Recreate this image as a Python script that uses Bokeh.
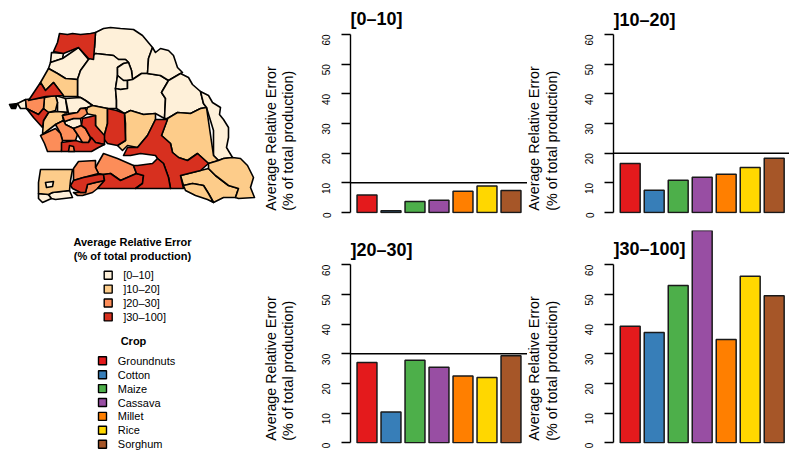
import math
from bokeh.core.properties import value
from bokeh.embed import file_html
from bokeh.layouts import column, row
from bokeh.models import FixedTicker, Range1d
from bokeh.plotting import figure
from bokeh.resources import INLINE

FONT = "Liberation Sans"
crops = ["Groundnuts", "Cotton", "Maize", "Cassava", "Millet", "Rice", "Sorghum"]
crop_colors = ["#E41A1C", "#377EB8", "#4DAF4A", "#984EA3", "#FF7F00", "#FFD700", "#A65628"]
class_labels = ["[0\u201310]", "]10\u201320]", "]20\u201330]", "]30\u2013100]"]
class_colors = ["#FEF0D9", "#FDCC8A", "#FC8D59", "#D7301F"]
class_limits = [10, 20, 30, None]
y_ticks = [0, 10, 20, 30, 40, 50, 60]
y_title_lines = ["Average Relative Error", "(% of total production)"]

err_0_10 = [5.9, 0.6, 3.7, 4.1, 7.2, 8.9, 7.4]
err_10_20 = [16.5, 7.5, 10.9, 11.9, 12.9, 15.2, 18.3]
err_20_30 = [27.1, 10.4, 27.8, 25.5, 22.5, 22.0, 29.3]
err_30_100 = [39.3, 37.2, 53.0, 75.0, 34.8, 56.1, 49.6]

# Map outlines (map units)
pale_regions = [
    [(95,32),(103,28),(110,27),(120,28),(133,29),(142,35),(152,47),(148,58),(147,73),(141,73),(132,79),(131,70),(128,62),(125,59),(118,59),(113,55),(95,53),(88,59),(94,47)],
    [(51,52),(63,53),(62,58),(50,62)],
    [(78,47),(88,59),(80,70),(77,79),(65,78),(57,73),(48,68),(50,62),(62,58)],
    [(88,59),(95,53),(113,55),(118,59),(125,59),(128,62),(123,63),(117,67),(117,75),(115,88),(116,100),(116,108),(107,108),(92,105),(85,100),(80,97),(77,96),(77,79),(80,70)],
    [(117,67),(123,63),(128,62),(131,70),(132,79),(127,80),(123,80),(117,75)],
    [(117,75),(123,80),(127,80),(127,88),(120,89),(115,88)],
    [(132,79),(141,73),(147,73),(160,75),(168,80),(161,92),(165,98),(164,118),(155,113),(143,114),(130,110),(124,113),(116,108),(116,100),(115,88),(120,89),(127,88),(127,80)],
    [(152,47),(155,52),(160,48),(168,50),(173,55),(177,67),(182,72),(180,73),(168,80),(160,75),(147,73),(148,58)],
    [(168,80),(180,73),(188,77),(192,84),(200,91),(203,103),(206,107),(200,108),(190,113),(177,112),(167,118),(164,118),(165,98),(161,92)],
    [(200,91),(208,95),(212,102),(220,107),(219,114),(223,119),(228,127),(228,137),(226,147),(232,157),(223,158),(218,160),(213,155),(213,130),(206,107),(203,103)],
    [(55,95),(65,98),(67,112),(57,111),(57,102)],
    [(65,98),(80,97),(85,100),(92,105),(87,107),(80,108),(77,112),(68,113)],
    [(64,121),(73,118),(80,118),(81,125),(73,128),(65,124)],
    [(38,193),(48,194),(51,198),(42,202),(38,198)],
    [(52,192),(69,190),(72,197),(55,199),(51,198),(48,194)],
    [(17,103),(25,99),(26,108),(20,108)],
]
peach_regions = [
    [(167,118),(177,112),(190,113),(200,108),(206,107),(213,155),(218,160),(208,163),(197,153),(187,160),(178,157),(172,152),(170,143),(161,135)],
    [(180,175),(188,173),(200,170),(208,168),(215,175),(228,185),(238,188),(235,197),(223,197),(213,202),(208,193),(203,185),(192,183),(183,185)],
    [(183,185),(192,183),(203,185),(208,193),(213,202),(207,199),(195,195),(185,190)],
    [(208,163),(218,160),(223,158),(232,157),(240,158),(247,165),(253,177),(250,187),(254,197),(238,198),(235,197),(238,188),(228,185),(215,175),(208,168)],
    [(124,113),(130,110),(143,114),(155,113),(155,119),(147,135),(137,147),(127,145),(122,150),(117,145),(125,140),(125,123)],
    [(48,68),(57,73),(65,78),(77,79),(77,96),(63,96),(53,82),(45,90),(40,82)],
    [(44,97),(55,95),(57,102),(55,110),(48,112),(43,108)],
    [(92,105),(107,108),(107,123),(103,138),(95,125),(95,115),(85,113),(87,107)],
    [(48,112),(57,111),(67,112),(62,115),(63,120),(55,124),(42,134),(43,120)],
    [(40,169),(72,169),(70,180),(69,190),(52,192),(48,194),(38,193),(38,182)],
]
orange_regions = [
    [(95,167),(103,153),(117,158),(133,165),(136,173),(120,180),(110,173),(103,174),(98,173)],
    [(73,168),(78,161),(95,160),(95,167),(98,173),(83,177),(73,180)],
    [(73,192),(85,192),(87,184),(95,182),(104,180),(97,188),(92,192),(82,195),(77,195)],
    [(25,99),(37,98),(44,97),(43,108),(38,114),(26,108)],
    [(62,115),(77,112),(80,108),(85,108),(87,113),(82,117),(80,118),(73,118),(64,121)],
    [(55,124),(63,120),(65,124),(73,128),(77,134),(75,140),(62,140),(60,133)],
    [(81,125),(85,128),(90,137),(88,142),(82,142),(77,134),(73,128)],
    [(40,135),(55,128),(60,133),(62,140),(61,151),(47,151),(44,143)],
]
red_regions = [
    [(59,33),(67,34),(72,33),(80,34),(90,33),(95,32),(94,47),(93,59),(88,58),(78,47),(63,53),(53,51),(57,42)],
    [(155,119),(167,119),(161,135),(170,143),(172,152),(178,157),(187,160),(197,153),(208,163),(200,170),(188,173),(180,175),(183,188),(170,188),(168,177),(163,163),(157,158),(155,155),(140,153),(130,155),(123,155),(127,147),(137,147),(147,135)],
    [(70,185),(73,180),(83,177),(98,174),(103,174),(104,180),(95,182),(87,184),(85,192),(80,192),(72,188)],
    [(103,174),(110,173),(120,180),(136,173),(143,175),(142,183),(135,188),(97,188),(104,180)],
    [(136,173),(133,165),(137,165),(152,163),(157,158),(163,163),(168,177),(170,188),(135,188),(142,183),(143,175)],
    [(107,108),(116,110),(124,113),(125,140),(117,145),(107,143),(103,138),(107,123)],
    [(28,100),(40,82),(45,90),(53,82),(63,95),(45,96)],
    [(26,108),(38,114),(43,108),(48,112),(43,120),(42,127),(33,117)],
    [(82,118),(95,115),(95,125),(104,135),(104,144),(95,142),(90,137),(85,128),(81,125)],
    [(61,142),(75,140),(82,142),(88,142),(91,137),(95,142),(104,144),(98,147),(91,151),(61,151)],
]
enclave_pale = [[(45,182),(53,181),(52,186),(46,187)]]
enclave_orange = [[(68,151),(69,145),(73,146),(74,151)]]
cape_tip = [[(9,104),(17,103),(15,108),(11,108)]]

LINE = "#000000"


def map_panel():
    p = figure(width=263, height=460, output_backend="svg", toolbar_location=None,
               x_range=Range1d(0, 263), y_range=Range1d(460, 0),
               x_axis_location=None, y_axis_location=None,
               min_border=0, min_border_left=0, min_border_right=0,
               min_border_top=0, min_border_bottom=0, outline_line_color=None)
    p.grid.visible = False
    groups = [(pale_regions, class_colors[0]), (peach_regions, class_colors[1]),
              (orange_regions, class_colors[2]), (red_regions, class_colors[3]),
              (enclave_pale, class_colors[0]), (enclave_orange, class_colors[2]),
              (cape_tip, "#000000")]
    for polys, color in groups:
        p.patches([[c[0] for c in q] for q in polys], [[c[1] for c in q] for q in polys],
                  fill_color=color, line_color=LINE, line_width=1.6, line_join="round")

    def txt(x, y, s, bold=False, align="left", size="11px"):
        p.text([x], [y], [s], text_font=value(FONT), text_font_size=value(size),
               text_font_style="bold" if bold else "normal", text_align=align,
               text_baseline="middle", text_color="#000000")

    txt(132, 241, "Average Relative Error", True, "center")
    txt(132, 255, "(% of total production)", True, "center")
    for i, (lab, col) in enumerate(zip(class_labels, class_colors)):
        y = 274.7 + i * 13.9
        p.rect([107.7], [y], width=8, height=8, fill_color=col, line_color="#000000", line_width=1.4)
        txt(122.7, y, lab)
    txt(133, 340.7, "Crop", True, "center")
    for i, (lab, col) in enumerate(zip(crops, crop_colors)):
        y = 360.3 + i * 13.9
        p.rect([102], [y], width=8, height=8, fill_color=col, line_color="#000000", line_width=1.4)
        txt(117.3, y, lab)
    return p


PX = 2.967
UNIT = 24.0
ROW_H = 230
TICK_AREA = 40


def label_panel(width, label_x, base_y):
    p = figure(width=width, height=ROW_H, output_backend="svg", toolbar_location=None,
               x_range=Range1d(0, width), y_range=Range1d(ROW_H, 0),
               x_axis_location=None, y_axis_location=None,
               min_border=0, min_border_left=0, min_border_right=0,
               min_border_top=0, min_border_bottom=0, outline_line_color=None)
    p.grid.visible = False
    for line, lx in zip(y_title_lines, label_x):
        p.text([lx], [base_y], [line], angle=math.pi / 2, text_font=value(FONT),
               text_font_size=value("14.3px"), text_align="left", text_baseline="middle",
               text_color="#000000")
    return p


def bar_panel(vals, title, limit, frame_px, top_ref, zero_ref, first_px, bottom, title_ref_y):
    y_top = (zero_ref - top_ref) / PX
    y_bot = y_top - (ROW_H - bottom) / PX
    x0 = -first_px / UNIT
    x1 = x0 + frame_px / UNIT
    p = figure(width=TICK_AREA + frame_px, height=ROW_H, output_backend="svg", toolbar_location=None,
               x_range=Range1d(x0, x1), y_range=Range1d(y_bot, y_top),
               x_axis_location=None, y_axis_location="left",
               min_border_left=TICK_AREA, min_border_right=0, min_border_top=0,
               min_border_bottom=bottom, outline_line_color=None)
    p.grid.visible = False
    ax = p.yaxis[0]
    ax.ticker = FixedTicker(ticks=y_ticks)
    ax.bounds = (0, 60)
    ax.axis_line_color = "#000000"
    ax.axis_line_width = 1.4
    ax.major_tick_line_color = "#000000"
    ax.major_tick_line_width = 1.4
    ax.major_tick_out = 9
    ax.major_tick_in = 0
    ax.minor_tick_out = 0
    ax.minor_tick_in = 0
    ax.major_label_orientation = math.pi / 2
    ax.major_label_standoff = 15
    ax.major_label_text_font = FONT
    ax.major_label_text_font_size = "10px"
    ax.major_label_text_color = "#000000"
    p.vbar(x=list(range(len(vals))), top=vals, bottom=0, width=0.83,
           fill_color=crop_colors, line_color="#1a1a1a", line_width=1.5)
    if limit is not None:
        p.line([x0, x1], [limit, limit], line_color="#000000", line_width=1.5)
    p.text([x0], [(zero_ref - title_ref_y) / PX], [title], text_font=value(FONT),
           text_font_size=value("18px"), text_font_style="bold", text_baseline="middle",
           text_color="#000000")
    return p


l1 = label_panel(47, (7.2, 24.5), 227)
l2 = label_panel(46, (6, 24), 227)
l3 = label_panel(47, (7.2, 24.5), 227)
l4 = label_panel(46, (6, 24), 227)
p1 = bar_panel(err_0_10, class_labels[0], class_limits[0], 177, 0, 212, 16.5, 17, 18.5)
p2 = bar_panel(err_10_20, class_labels[1], class_limits[1], 176, 0, 212, 16.7, 17, 19)
p3 = bar_panel(err_20_30, class_labels[2], class_limits[2], 177, 230, 442.3, 16.5, 17, 249)
p4 = bar_panel(err_30_100, class_labels[3], class_limits[3], 176, 230, 442.3, 16.7, 17, 248)

layout = row(map_panel(),
             column(row(l1, p1, l2, p2, spacing=0), row(l3, p3, l4, p4, spacing=0), spacing=0),
             spacing=0)
open("out.html", "w").write(file_html(layout, INLINE))
